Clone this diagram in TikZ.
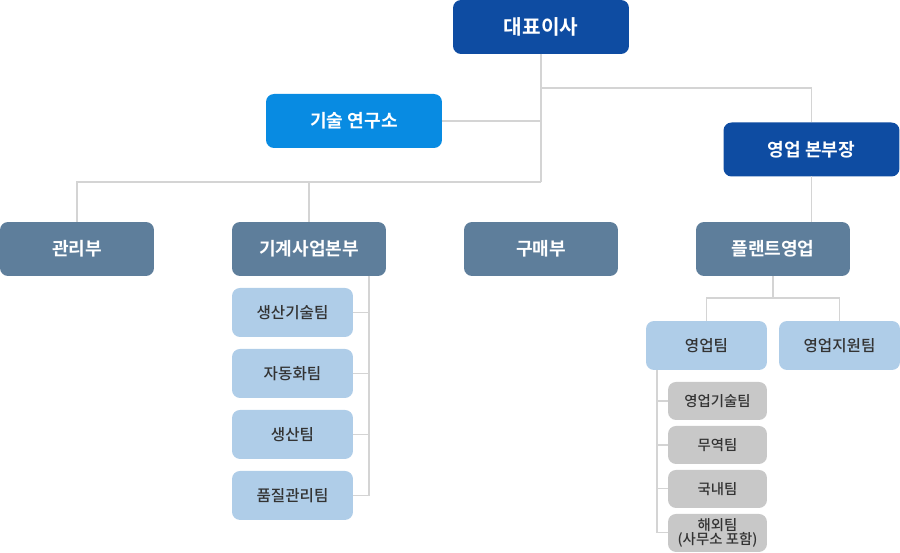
\documentclass[tikz,border=0pt]{standalone}
\usepackage{fontspec}
\setmainfont{Noto Sans CJK KR}[BoldFont={* Bold}]
\newfontfamily\krmed{Noto Sans CJK KR Medium}
\usepackage{xcolor}
\definecolor{ceoblue}{RGB}{14,76,162}
\definecolor{labblue}{RGB}{8,139,226}
\definecolor{deptslate}{RGB}{94,126,155}
\definecolor{teamblue}{RGB}{175,205,232}
\definecolor{unitgrey}{RGB}{200,200,200}
\definecolor{linegrey}{RGB}{212,212,212}
\definecolor{textdark}{RGB}{51,51,51}
\usepackage{tikz}
\usetikzlibrary{positioning}

\begin{document}
\begin{tikzpicture}[x=0.02cm, y=-0.02cm, every node/.style={inner sep=0pt, outer sep=0pt, align=center}]
    \tikzstyle{topbox}=[rounded corners=0.16cm, fill=ceoblue, text=white, font=\bfseries\fontsize{10.3}{12}\selectfont, minimum width=3.52cm, minimum height=1.08cm]
    \tikzstyle{labbox}=[topbox, fill=labblue]
    \tikzstyle{deptbox}=[topbox, fill=deptslate, minimum width=3.08cm]
    \tikzstyle{teambox}=[rounded corners=0.16cm, fill=teamblue, text=textdark, font=\krmed\fontsize{8.9}{10}\selectfont, minimum width=2.42cm, minimum height=0.98cm]
    \tikzstyle{unitbox}=[rounded corners=0.16cm, fill=unitgrey, text=textdark, font=\krmed\fontsize{8.2}{9}\selectfont, minimum width=1.98cm, minimum height=0.76cm]
    \tikzstyle{link}=[draw=linegrey, line width=0.6pt]

    \useasboundingbox (0,0) rectangle (900,553);

    % Head and staff
    \node[topbox, font=\bfseries\fontsize{11.5}{13}\selectfont] (ceo) at (541,27) {대표이사};
    \node[labbox] (rnd) at (354,121) {기술 연구소};
    \node[topbox] (sales) at (811.5,149.5) {영업 본부장};

    % Departments
    \node[deptbox] (admin) at (77,249) {관리부};
    \node[deptbox] (mech) at (309,249) {기계사업본부};
    \node[deptbox] (buy) at (541,249) {구매부};
    \node[deptbox] (plant) at (773,249) {플랜트영업};

    % Teams of the machinery division
    \node[teambox, below=0.24cm of mech.south west, anchor=north west] (m1) {생산기술팀};
    \node[teambox, below=0.24cm of m1] (m2) {자동화팀};
    \node[teambox, below=0.24cm of m2] (m3) {생산팀};
    \node[teambox, below=0.24cm of m3] (m4) {품질관리팀};

    % Teams of plant sales
    \node[teambox] (steam) at (706.5,345.5) {영업팀};
    \node[teambox] (support) at (839.5,345.5) {영업지원팀};

    % Units of the sales team
    \node[unitbox, below=0.24cm of steam.south east, anchor=north east] (u1) {영업기술팀};
    \node[unitbox, below=0.12cm of u1] (u2) {무역팀};
    \node[unitbox, below=0.12cm of u2] (u3) {국내팀};
    \node[unitbox, below=0.12cm of u3, font=\krmed\fontsize{8.2}{8.4}\selectfont] (u4) {해외팀\\(사무소 포함)};

    % Junctions
    \coordinate (hub) at (541,182);
    \coordinate (fork) at (541,88);
    \coordinate (mrail) at (369,0);
    \coordinate (srail) at (657,0);

    % Connectors
    \draw[link] (ceo.south) -- (hub);
    \draw[link] (hub) -| (admin.north);
    \draw[link] (hub) -| (mech.north);
    \draw[link] (rnd.east) -- (rnd.east -| hub);
    \draw[link] (fork) -| (sales.north);
    \draw[link] (sales.south) -- (sales.south |- plant.north);
    \draw[link] (plant.south) -- ++(0,22) coordinate (pfork);
    \draw[link] (pfork) -| (steam.north);
    \draw[link] (pfork) -| (support.north);
    \foreach \t in {m1,m2,m3,m4}
        \draw[link] (mech.south -| mrail) |- (\t.east);
    \foreach \u in {u1,u2,u3,u4}
        \draw[link] (steam.south -| srail) |- (\u.west);
\end{tikzpicture}
\end{document}
